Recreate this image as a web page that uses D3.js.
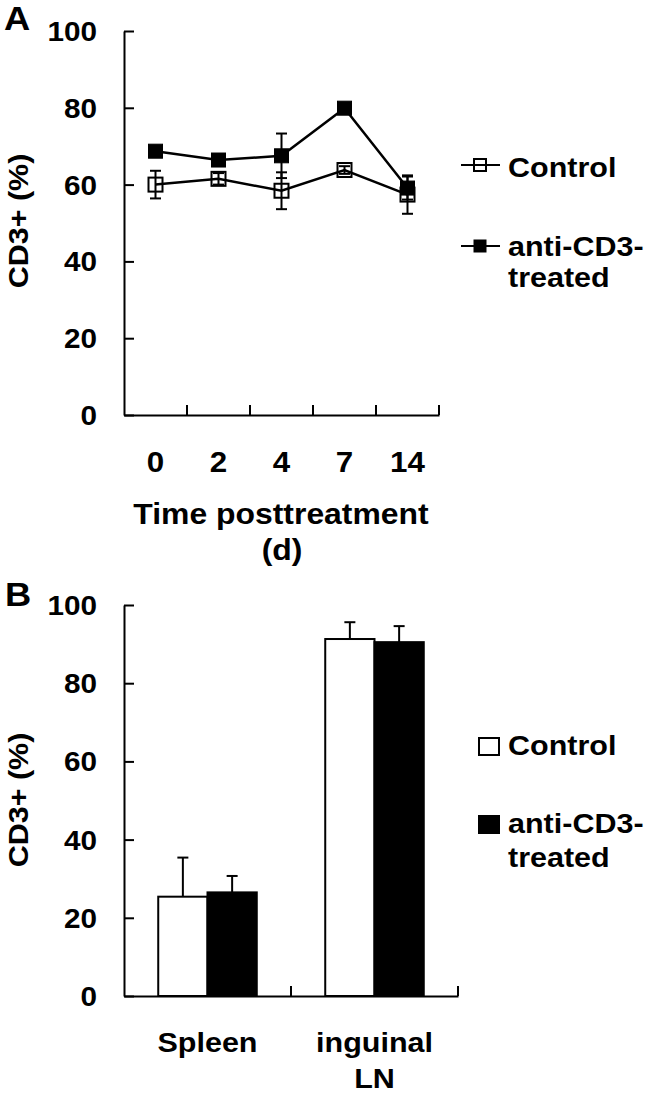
<!DOCTYPE html>
<html>
<head>
<meta charset="utf-8">
<script src="https://cdn.jsdelivr.net/npm/d3@7"></script>
<style>
  html, body { margin: 0; padding: 0; background: #fff; }
  svg { display: block; }
  text { font-family: "Liberation Sans", Arial, sans-serif; font-weight: bold; fill: #000; }
</style>
</head>
<body>
<svg id="chart" width="650" height="1094"></svg>
<script>
// ---------- DATA ----------
const days = ["0", "2", "4", "7", "14"];
const controlA = [60.0, 61.5, 58.4, 63.8, 57.4];
const controlAErr = [3.6, 1.5, 4.8, 1.0, 5.0];
const treatedA = [68.7, 66.4, 67.5, 79.9, 59.1];
const treatedAErr = [1.0, 1.0, 5.8, 0.5, 3.0];

const tissues = ["Spleen", "inguinal LN"];
const controlB = [25.4, 91.3];
const controlBErr = [10.0, 4.3];
const treatedB = [26.5, 90.5];
const treatedBErr = [4.2, 4.1];

const seriesNames = ["Control", "anti-CD3-treated"];
const yTicks = [0, 20, 40, 60, 80, 100];

// ---------- SETUP ----------
const svg = d3.select("#chart");
svg.append("rect").attr("width", 650).attr("height", 1094).attr("fill", "#fff");
const SX = 1.13;

function addText(g, x, y, str, size, anchor, sx) {
  return g.append("text")
    .attr("transform", `translate(${x},${y}) scale(${sx || SX},1)`)
    .attr("font-size", size)
    .attr("text-anchor", anchor || "start")
    .text(str);
}
function addVText(g, x, y, str, size) {
  return g.append("text")
    .attr("transform", `translate(${x},${y}) rotate(-90) scale(${SX},1)`)
    .attr("font-size", size)
    .attr("text-anchor", "middle")
    .text(str);
}
function styleAxis(g) {
  g.select(".domain").attr("stroke", "#000").attr("stroke-width", 2);
  g.selectAll(".tick line").attr("stroke", "#000").attr("stroke-width", 2);
}
function yAxisDraw(g, scale, left) {
  const ax = g.append("g").attr("transform", `translate(${left},0)`)
    .call(d3.axisLeft(scale).tickValues(yTicks).tickSizeInner(-10).tickSizeOuter(0).tickPadding(0));
  styleAxis(ax);
  ax.selectAll(".tick text")
    .attr("x", 0).attr("dy", "0.35em")
    .attr("transform", `translate(-27,0) scale(1.1,1)`)
    .attr("font-size", 27).attr("text-anchor", "end")
    .attr("font-family", null).attr("fill", "#000");
  return ax;
}

// ---------- PANEL A ----------
const gA = svg.append("g");
const yA = d3.scaleLinear().domain([0, 100]).range([415, 31]);
const xA = d3.scaleBand().domain(days).range([124, 439]).padding(0);
const bwA = xA.bandwidth();
const cx = i => xA(days[i]) + bwA / 2;

yAxisDraw(gA, yA, 124);

const xAxA = gA.append("g").attr("transform", `translate(0,${yA(0)})`)
  .call(d3.axisBottom(xA).tickSize(0).tickSizeOuter(0).tickPadding(0));
styleAxis(xAxA);
xAxA.selectAll(".tick text")
  .attr("y", 0).attr("dy", 0)
  .attr("transform", "translate(0,57) scale(1.08,1)")
  .attr("font-size", 29).attr("font-family", null).attr("fill", "#000");
gA.selectAll("line.btick").data(days).join("line").attr("class", "btick")
  .attr("x1", d => xA(d) + bwA).attr("x2", d => xA(d) + bwA)
  .attr("y1", yA(0)).attr("y2", yA(0) - 10)
  .attr("stroke", "#000").attr("stroke-width", 2);

addText(gA, 281, 524, "Time posttreatment", 29, "middle", 1.1);
addText(gA, 282, 560, "(d)", 29, "middle", 1.1);
addVText(gA, 28, 221, "CD3+ (%)", 27);
addText(gA, 4, 30, "A", 33, "start", 1.1);

const lineGen = d3.line().x((d, i) => cx(i)).y(d => yA(d));

function drawSeriesA(vals, errs, filled) {
  const g = gA.append("g");
  g.append("path").datum(vals).attr("d", lineGen)
    .attr("fill", "none").attr("stroke", "#000").attr("stroke-width", 2.5);
  vals.forEach((v, i) => {
    const x = cx(i), y1 = yA(v + errs[i]), y2 = yA(v - errs[i]);
    g.append("line").attr("x1", x).attr("x2", x).attr("y1", y1).attr("y2", y2)
      .attr("stroke", "#000").attr("stroke-width", 2);
    [y1, y2].forEach(yy => g.append("line")
      .attr("x1", x - 5.5).attr("x2", x + 5.5).attr("y1", yy).attr("y2", yy)
      .attr("stroke", "#000").attr("stroke-width", 2));
  });
  g.selectAll("rect").data(vals).join("rect")
    .attr("x", (d, i) => cx(i) - 7).attr("y", d => yA(d) - 7)
    .attr("width", 14).attr("height", 14)
    .attr("fill", filled ? "#000" : "none")
    .attr("stroke", "#000").attr("stroke-width", filled ? 1 : 2);
}
drawSeriesA(controlA, controlAErr, false);
drawSeriesA(treatedA, treatedAErr, true);

// Legend A
const legA = gA.append("g");
[[165, false], [246, true]].forEach(([ly, filled]) => {
  legA.append("line").attr("x1", 461).attr("x2", 500).attr("y1", ly).attr("y2", ly)
    .attr("stroke", "#000").attr("stroke-width", 2);
  legA.append("rect").attr("x", 474).attr("y", ly - 6).attr("width", 12).attr("height", 12)
    .attr("fill", filled ? "#000" : "none").attr("stroke", "#000").attr("stroke-width", filled ? 1 : 2);
});
addText(legA, 508, 177, seriesNames[0], 27);
addText(legA, 508, 256, "anti-CD3-", 27);
addText(legA, 508, 287, "treated", 27);

// ---------- PANEL B ----------
const gB = svg.append("g");
const yB = d3.scaleLinear().domain([0, 100]).range([996, 605]);
const xB = d3.scaleBand().domain(tissues).range([124, 458]).padding(0);
const bwB = xB.bandwidth();
const xB1 = d3.scaleBand().domain(seriesNames).range([bwB * 0.205, bwB * 0.795]).padding(0);

yAxisDraw(gB, yB, 124);

const xAxB = gB.append("g").attr("transform", `translate(0,${yB(0)})`)
  .call(d3.axisBottom(xB).tickSize(0).tickSizeOuter(0).tickPadding(0));
styleAxis(xAxB);
xAxB.selectAll(".tick text").remove();
gB.selectAll("line.btick").data(tissues).join("line").attr("class", "btick")
  .attr("x1", d => xB(d) + bwB).attr("x2", d => xB(d) + bwB)
  .attr("y1", yB(0)).attr("y2", yB(0) - 10)
  .attr("stroke", "#000").attr("stroke-width", 2);

addText(gB, xB("Spleen") + bwB / 2, 1052, "Spleen", 28, "middle", 1.09);
addText(gB, xB("inguinal LN") + bwB / 2, 1052, "inguinal", 28, "middle", 1.09);
addText(gB, xB("inguinal LN") + bwB / 2, 1088, "LN", 28, "middle", 1.09);
addVText(gB, 28, 800, "CD3+ (%)", 27);
addText(gB, 5, 606, "B", 33, "start", 1.1);

const barData = [];
tissues.forEach((t, i) => {
  barData.push({ t, s: seriesNames[0], v: controlB[i], e: controlBErr[i], fill: "#fff" });
  barData.push({ t, s: seriesNames[1], v: treatedB[i], e: treatedBErr[i], fill: "#000" });
});
const barG = gB.append("g");
barData.forEach(d => {
  const x = xB(d.t) + xB1(d.s), w = xB1.bandwidth(), xc = x + w / 2;
  barG.append("line").attr("x1", xc).attr("x2", xc).attr("y1", yB(d.v)).attr("y2", yB(d.v + d.e))
    .attr("stroke", "#000").attr("stroke-width", 2);
  barG.append("line").attr("x1", xc - 5.5).attr("x2", xc + 5.5).attr("y1", yB(d.v + d.e)).attr("y2", yB(d.v + d.e))
    .attr("stroke", "#000").attr("stroke-width", 2);
});
barData.forEach(d => {
  barG.append("rect")
    .attr("x", xB(d.t) + xB1(d.s)).attr("y", yB(d.v))
    .attr("width", xB1.bandwidth()).attr("height", yB(0) - yB(d.v))
    .attr("fill", d.fill).attr("stroke", "#000").attr("stroke-width", 2);
});

// Legend B
const legB = gB.append("g");
legB.append("rect").attr("x", 479).attr("y", 738).attr("width", 20).attr("height", 17)
  .attr("fill", "#fff").attr("stroke", "#000").attr("stroke-width", 2);
legB.append("rect").attr("x", 479).attr("y", 816).attr("width", 20).attr("height", 17)
  .attr("fill", "#000").attr("stroke", "#000").attr("stroke-width", 2);
addText(legB, 508, 755, seriesNames[0], 27);
addText(legB, 508, 833, "anti-CD3-", 27);
addText(legB, 508, 867, "treated", 27);
</script>
</body>
</html>
